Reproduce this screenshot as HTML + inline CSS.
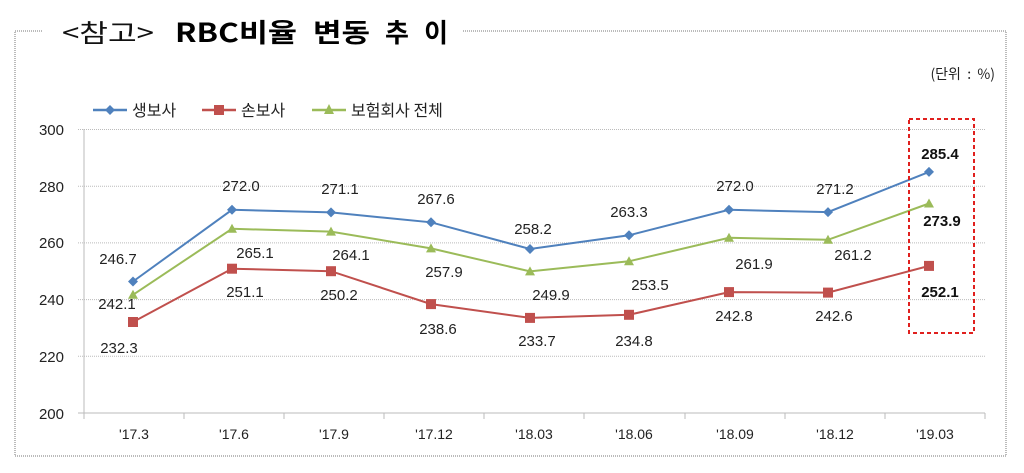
<!DOCTYPE html>
<html><head><meta charset="utf-8"><style>
body{margin:0;background:#fff;}
svg{display:block;font-family:"Liberation Sans","Noto Sans CJK KR",sans-serif;}
</style></head><body>
<svg width="1024" height="473" viewBox="0 0 1024 473">
<g stroke="#777" stroke-width="1" stroke-dasharray="1,1" fill="none">
<path d="M42 31 H15 V456 H1006 V31 H463"/>
</g>
<text x="62" y="42" font-size="25" fill="#111" font-family="'Noto Sans CJK KR',sans-serif" textLength="92" lengthAdjust="spacingAndGlyphs">&lt;참고&gt;</text>
<g font-size="26" font-weight="bold" fill="#000" font-family="'Noto Sans CJK KR',sans-serif">
<text x="175" y="42" textLength="122" lengthAdjust="spacingAndGlyphs">RBC비율</text>
<text x="313" y="42" textLength="57" lengthAdjust="spacingAndGlyphs">변동</text>
<text x="385" y="42" textLength="63" lengthAdjust="spacing">추이</text>
</g>
<text x="995" y="79" font-size="14" fill="#222" text-anchor="end" font-family="'Noto Sans CJK KR',sans-serif" xml:space="preserve">(단위  :  %)</text>
<g font-size="16" fill="#222" font-family="'Noto Sans CJK KR',sans-serif">
<line x1="93" y1="110" x2="127" y2="110" stroke="#4F81BD" stroke-width="2.5"/><path d="M110 105 L115 110 L110 115 L105 110Z" fill="#4F81BD"/>
<text x="132" y="116">생보사</text>
<line x1="202" y1="110" x2="236" y2="110" stroke="#C0504D" stroke-width="2.5"/><rect x="214" y="105" width="10" height="10" fill="#C0504D"/>
<text x="241" y="116">손보사</text>
<line x1="312" y1="110" x2="346" y2="110" stroke="#9BBB59" stroke-width="2.5"/><path d="M329 104 L334 114 L324 114Z" fill="#9BBB59"/>
<text x="351" y="116">보험회사 전체</text>
</g>
<g stroke="#bbb" stroke-dasharray="1,1">
<line x1="78" x2="985" y1="129.5" y2="129.5"/>
<line x1="78" x2="985" y1="186.2" y2="186.2"/>
<line x1="78" x2="985" y1="242.9" y2="242.9"/>
<line x1="78" x2="985" y1="299.6" y2="299.6"/>
<line x1="78" x2="985" y1="356.3" y2="356.3"/>
</g>
<g stroke="#bbb"><line x1="84" x2="84" y1="129" y2="413"/><line x1="78" x2="985" y1="413" y2="413"/>
<path d="M84 413v6M184 413v6M284 413v6M384 413v6M484 413v6M584 413v6M685 413v6M785 413v6M885 413v6M985 413v6"/></g>
<g font-size="15" fill="#222" text-anchor="end">
<text x="64" y="135">300</text><text x="64" y="192">280</text><text x="64" y="248">260</text>
<text x="64" y="305">240</text><text x="64" y="362">220</text><text x="64" y="419">200</text>
</g>
<g font-size="14" fill="#222" text-anchor="middle">
<text x="134" y="439">'17.3</text><text x="234" y="439">'17.6</text><text x="334" y="439">'17.9</text>
<text x="434" y="439">'17.12</text><text x="534" y="439">'18.03</text><text x="634" y="439">'18.06</text>
<text x="735" y="439">'18.09</text><text x="835" y="439">'18.12</text><text x="935" y="439">'19.03</text>
</g>
<polyline fill="none" stroke="#4F81BD" stroke-width="2" points="133,281.5 232,209.8 331,212.4 431,222.3 530,249 629,235.3 729,209.8 828,212.1 929,171.9"/>
<polyline fill="none" stroke="#9BBB59" stroke-width="2" points="133,294.8 232,228.8 331,231.6 431,248.4 530,271.4 629,261.3 729,237.8 828,239.8 929,203.5"/>
<polyline fill="none" stroke="#C0504D" stroke-width="2" points="133,322 232,268.7 331,271.2 431,304.1 530,317.9 629,314.8 729,292.1 828,292.6 929,265.9"/>
<g fill="#4F81BD">
<path d="M133 276.5l5 5-5 5-5-5z M232 204.8l5 5-5 5-5-5z M331 207.4l5 5-5 5-5-5z M431 217.3l5 5-5 5-5-5z M530 244l5 5-5 5-5-5z M629 230.3l5 5-5 5-5-5z M729 204.8l5 5-5 5-5-5z M828 207.1l5 5-5 5-5-5z M929 166.9l5 5-5 5-5-5z"/>
</g>
<g fill="#9BBB59">
<path d="M133 289.8l5 9h-10z M232 223.8l5 9h-10z M331 226.6l5 9h-10z M431 243.4l5 9h-10z M530 266.4l5 9h-10z M629 256.3l5 9h-10z M729 232.8l5 9h-10z M828 234.8l5 9h-10z M929 198.5l5 9h-10z"/>
</g>
<g fill="#C0504D">
<rect x="128" y="317" width="10" height="10"/><rect x="227" y="263.7" width="10" height="10"/><rect x="326" y="266.2" width="10" height="10"/>
<rect x="426" y="299.1" width="10" height="10"/><rect x="525" y="312.9" width="10" height="10"/><rect x="624" y="309.8" width="10" height="10"/>
<rect x="724" y="287.1" width="10" height="10"/><rect x="823" y="287.6" width="10" height="10"/><rect x="924" y="260.9" width="10" height="10"/>
</g>
<g font-size="15" fill="#222" text-anchor="middle">
<text x="118" y="264">246.7</text><text x="241" y="191">272.0</text><text x="340" y="194">271.1</text>
<text x="436" y="204">267.6</text><text x="533" y="234">258.2</text><text x="629" y="217">263.3</text>
<text x="735" y="191">272.0</text><text x="835" y="194">271.2</text>
<text x="117" y="309">242.1</text><text x="255" y="258">265.1</text><text x="351" y="260">264.1</text>
<text x="444" y="277">257.9</text><text x="551" y="300">249.9</text><text x="650" y="290">253.5</text>
<text x="754" y="269">261.9</text><text x="853" y="260">261.2</text>
<text x="119" y="353">232.3</text><text x="245" y="297">251.1</text><text x="339" y="300">250.2</text>
<text x="438" y="334">238.6</text><text x="537" y="346">233.7</text><text x="634" y="346">234.8</text>
<text x="734" y="321">242.8</text><text x="834" y="321">242.6</text>
</g>
<g font-size="15" font-weight="bold" fill="#111" text-anchor="middle">
<text x="940" y="159">285.4</text><text x="942" y="226">273.9</text><text x="940" y="297">252.1</text>
</g>
<rect x="909" y="119" width="65" height="214" fill="none" stroke="#E0201E" stroke-width="2" stroke-dasharray="4,3"/>
</svg>
</body></html>
